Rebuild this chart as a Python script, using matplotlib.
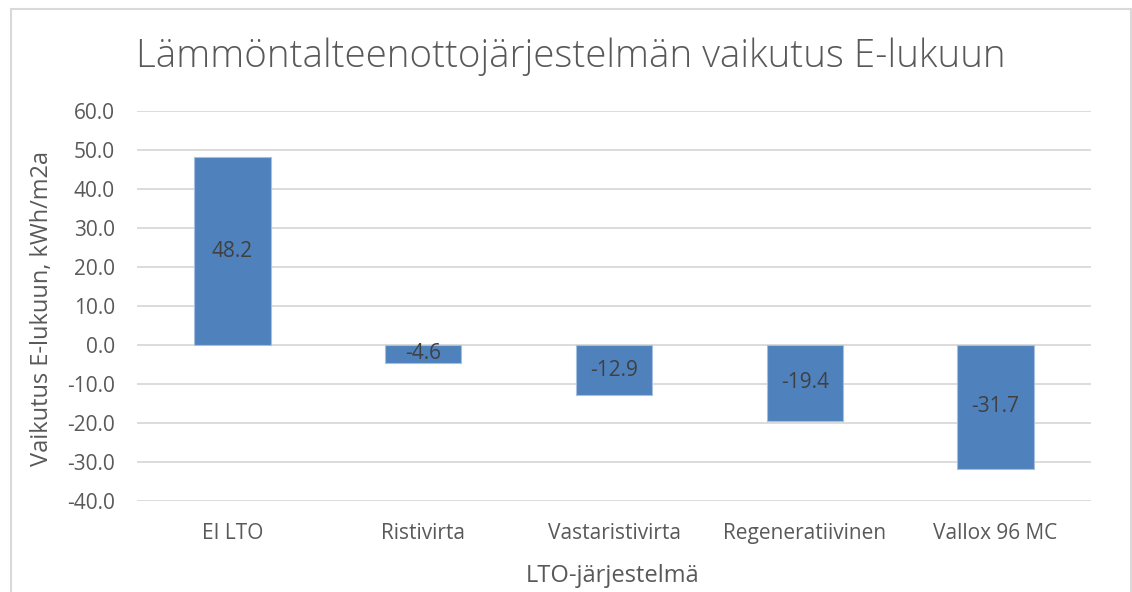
import matplotlib
matplotlib.use("Agg")
import matplotlib.pyplot as plt
from matplotlib.patches import Rectangle
from matplotlib.ticker import FuncFormatter

categories = ["EI LTO", "Ristivirta", "Vastaristivirta", "Regeneratiivinen", "Vallox 96 MC"]
values = [48.2, -4.6, -12.9, -19.4, -31.7]
title = "Lämmöntalteenottojärjestelmän vaikutus E-lukuun"
xlabel = "LTO-järjestelmä"
ylabel = "Vaikutus E-lukuun, kWh/m2a"
yticks = [-40, -30, -20, -10, 0, 10, 20, 30, 40, 50, 60]

FONT = "Open Sans"
TXT = "#595959"
BAR = "#4F81BD"
GRID = "#D9D9D9"

W, H = 1132, 592
fig = plt.figure(figsize=(W / 100, H / 100), dpi=100)
fig.patch.set_facecolor("white")

# chart border
fig.add_artist(Rectangle((11 / W, -0.05), (1131 - 11) / W, 1.05 - 9 / H,
                         transform=fig.transFigure, fill=False, edgecolor="#D9D9D9", lw=1.5))

ax = fig.add_axes([137 / W, 1 - 501 / H, (1091 - 137) / W, (501 - 111) / H])
x = list(range(len(categories)))
ax.bar(x, values, width=0.4, color=BAR, edgecolor="#A7BFDE", linewidth=0.8, zorder=3)
ax.set_xlim(-0.5, len(categories) - 0.5)
ax.set_ylim(-40, 60)
ax.set_yticks(yticks)
ax.yaxis.set_major_formatter(FuncFormatter(lambda v, p: f"{v:.1f}"))
ax.set_xticks(x)
ax.set_xticklabels(categories)
ax.grid(axis="y", color=GRID, lw=1.3, zorder=0)
for s in ax.spines.values():
    s.set_visible(False)
ax.tick_params(axis="both", length=0, labelsize=15, colors=TXT)
ax.tick_params(axis="y", pad=16)
ax.tick_params(axis="x", pad=16)
for lab in ax.get_xticklabels() + ax.get_yticklabels():
    lab.set_fontfamily(FONT)

for xi, v in zip(x, values):
    ax.text(xi, v / 2, f"{v:.1f}", ha="center", va="center", fontsize=15,
            color="#404040", family=FONT, zorder=4)

fig.text(571 / W, 1 - 57 / H, title, ha="center", va="center", fontsize=27.7,
         color=TXT, family=FONT, fontweight="light")
fig.text(613 / W, 1 - 576 / H, xlabel, ha="center", va="center", fontsize=17,
         color=TXT, family=FONT)
fig.text(42 / W, 1 - 308 / H, ylabel, ha="center", va="center", fontsize=17,
         color=TXT, family=FONT, rotation=90)

fig.savefig("out.png", dpi=100, facecolor="white")
